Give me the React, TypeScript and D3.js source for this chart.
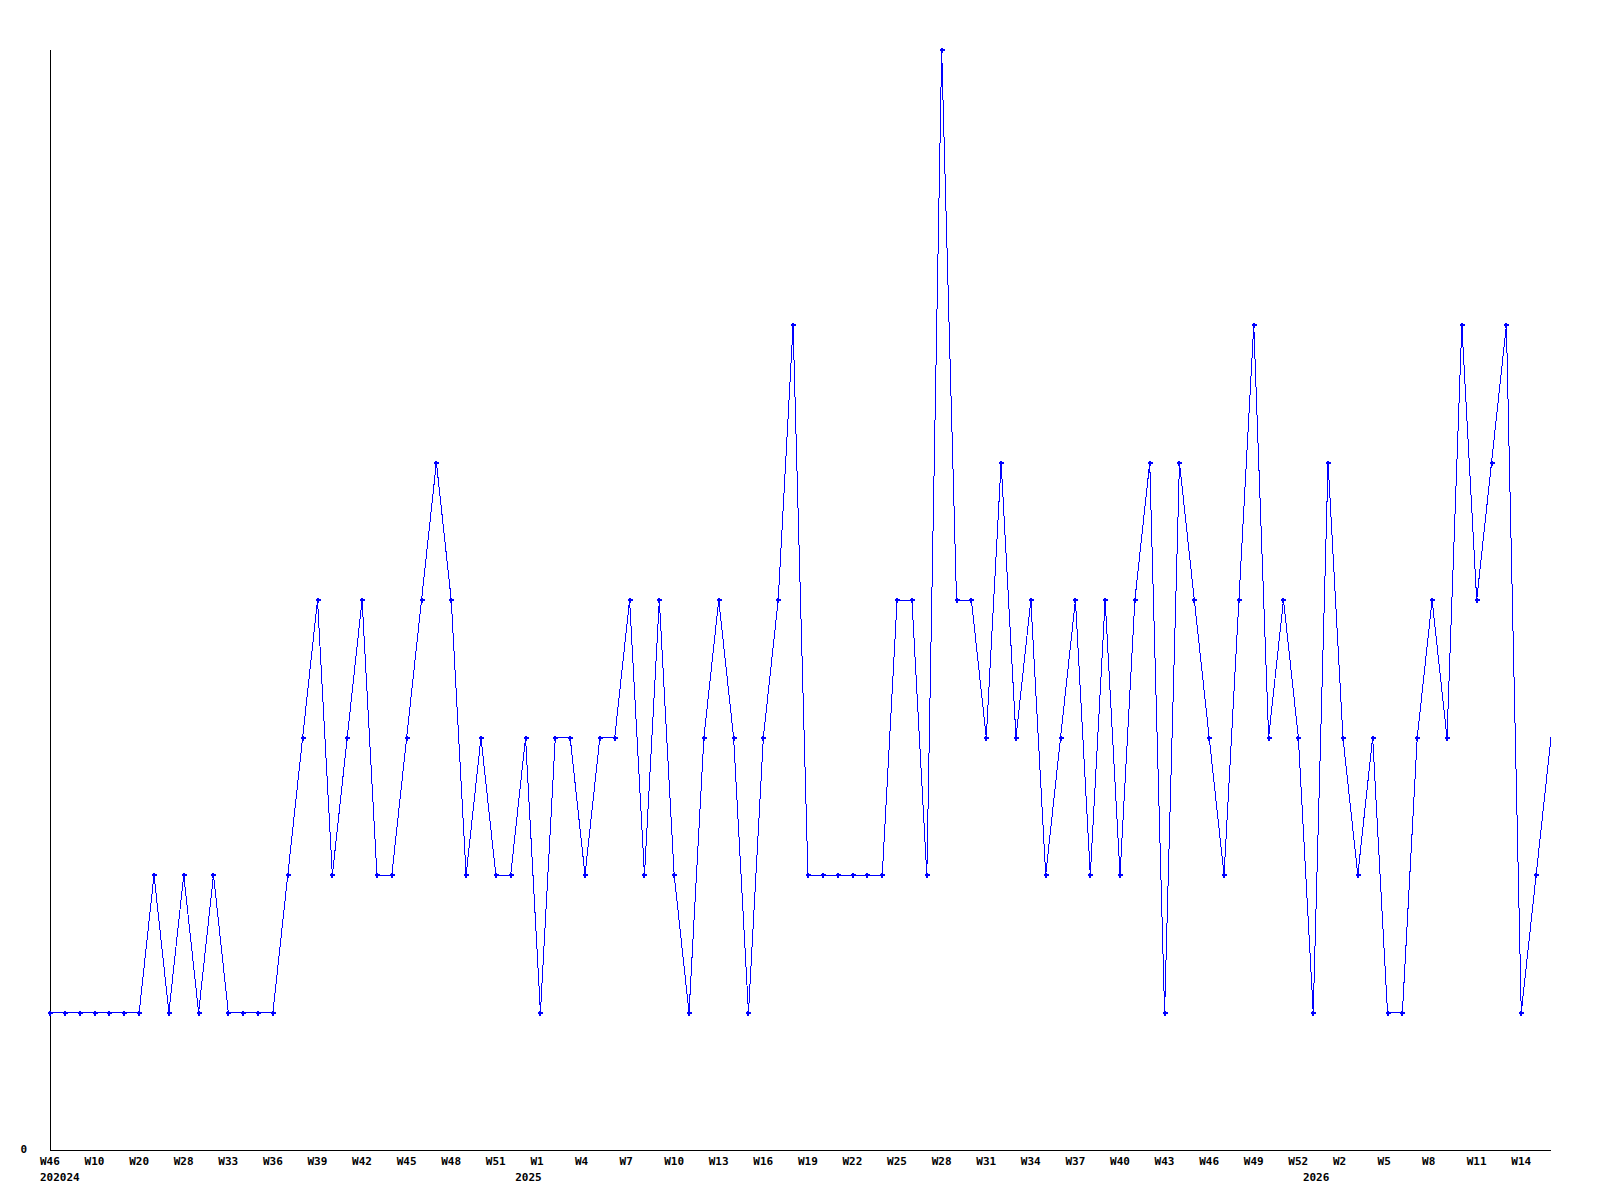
import React, { useRef, useEffect } from 'react';
import * as d3 from 'd3';

// weekly counts, one per week, oldest first
const counts = [
  1, 1, 1, 1, 1, 1, 1, 2, 1, 2,
  1, 2, 1, 1, 1, 1, 2, 3, 4, 2,
  3, 4, 2, 2, 3, 4, 5, 4, 2, 3,
  2, 2, 3, 1, 3, 3, 2, 3, 3, 4,
  2, 4, 2, 1, 3, 4, 3, 1, 3, 4,
  6, 2, 2, 2, 2, 2, 2, 4, 4, 2,
  8, 4, 4, 3, 5, 3, 4, 2, 3, 4,
  2, 4, 2, 4, 5, 1, 5, 4, 3, 2,
  4, 6, 3, 4, 3, 1, 5, 3, 2, 3,
  1, 1, 3, 4, 3, 6, 4, 5, 6, 1,
  2, 3,
];

// every third week gets a label
const weekLabels = [
  'W46', 'W10', 'W20', 'W28', 'W33', 'W36', 'W39', 'W42', 'W45', 'W48', 'W51',
  'W1', 'W4', 'W7', 'W10', 'W13', 'W16', 'W19', 'W22', 'W25', 'W28', 'W31', 'W34',
  'W37', 'W40', 'W43', 'W46', 'W49', 'W52',
  'W2', 'W5', 'W8', 'W11', 'W14',
];

// year labels and the week index they sit under
const yearLabels = ['202024', '2025', '2026'];
const yearAt = [0, 33, 86];

const yTicks = [0];

const W = 1600;
const H = 1200;
const FONT = '"DejaVu Sans Mono", monospace';

const App = () => {
  const ref = useRef<SVGSVGElement>(null);

  useEffect(() => {
    const svg = d3.select(ref.current);
    svg.selectAll('*').remove();

    const x = d3.scalePoint<number>()
      .domain(counts.map((_, i) => i))
      .range([50, 1551]);
    const y = d3.scaleLinear().domain([0, 8]).range([1150, 50]);

    // axes
    svg.append('line')
      .attr('x1', 50.5).attr('x2', 50.5)
      .attr('y1', y(8)).attr('y2', y(0))
      .attr('stroke', '#000').attr('shape-rendering', 'crispEdges');
    svg.append('line')
      .attr('x1', 50).attr('x2', x(counts.length - 1)!)
      .attr('y1', y(0) + 0.5).attr('y2', y(0) + 0.5)
      .attr('stroke', '#000').attr('shape-rendering', 'crispEdges');

    // y label
    svg.selectAll('text.ylab')
      .data(yTicks)
      .join('text')
      .attr('class', 'ylab')
      .attr('x', 27)
      .attr('y', d => y(d) + 3)
      .attr('text-anchor', 'end')
      .attr('font-family', FONT)
      .attr('font-weight', 'bold')
      .attr('font-size', 11)
      .text(d => String(d));

    // week labels, left aligned 10px before the point
    svg.selectAll('text.wk')
      .data(weekLabels)
      .join('text')
      .attr('class', 'wk')
      .attr('x', (_, i) => x(i * 3)! - 10)
      .attr('y', 1165)
      .attr('font-family', FONT)
      .attr('font-weight', 'bold')
      .attr('font-size', 11)
      .text(d => d);

    svg.selectAll('text.yr')
      .data(yearLabels)
      .join('text')
      .attr('class', 'yr')
      .attr('x', (d, i) => Math.max(x(yearAt[i])! - 12 - d.length * 3.3, x(0)! - 10))
      .attr('y', 1181)
      .attr('font-family', FONT)
      .attr('font-weight', 'bold')
      .attr('font-size', 11)
      .text(d => d);

    // the line
    const line = d3.line<number>()
      .x((_, i) => x(i)!)
      .y(d => y(d));
    svg.append('path')
      .datum(counts)
      .attr('d', line)
      .attr('fill', 'none')
      .attr('stroke', '#0000ff')
      .attr('stroke-width', 1)
      .attr('shape-rendering', 'crispEdges');

    // plus markers (last week is still open, no marker)
    const marks = svg.selectAll('g.mk')
      .data(counts.slice(0, -1))
      .join('g')
      .attr('class', 'mk')
      .attr('transform', (d, i) => `translate(${Math.round(x(i)!)},${Math.round(y(d))})`);
    marks.append('rect')
      .attr('x', -2).attr('y', -1).attr('width', 5).attr('height', 2)
      .attr('fill', '#0000ff').attr('shape-rendering', 'crispEdges');
    marks.append('rect')
      .attr('x', -1).attr('y', -2).attr('width', 2).attr('height', 5)
      .attr('fill', '#0000ff').attr('shape-rendering', 'crispEdges');
  }, []);

  return (
    <svg
      ref={ref}
      width={W}
      height={H}
      style={{ position: 'absolute', left: 0, top: 0, background: '#fff' }}
    />
  );
};

export default App;
